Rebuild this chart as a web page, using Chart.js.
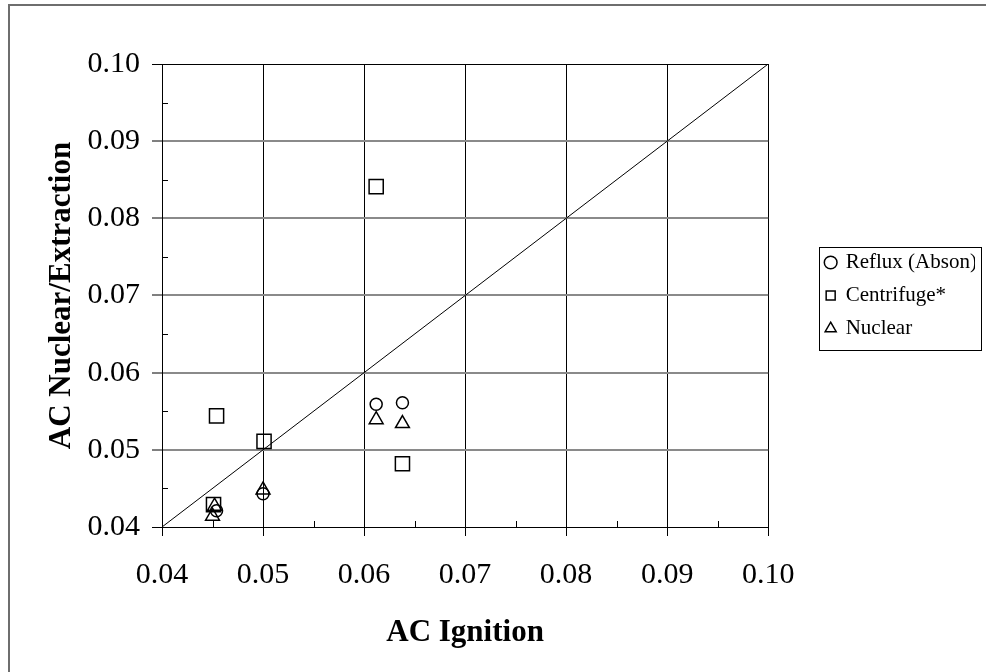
<!DOCTYPE html>
<html>
<head>
<meta charset="utf-8">
<script src="https://cdn.jsdelivr.net/npm/chart.js@4"></script>
<style>
  body { margin: 0; background: #fff; }
  #wrap { width: 986px; height: 672px; position: relative; }
</style>
</head>
<body>
<div id="wrap"><canvas id="acChart"></canvas></div>
<script>
// AC values (x = AC ignition, y = AC nuclear/extraction)
const seriesNames = ['Reflux (Abson)', 'Centrifuge*', 'Nuclear'];
const refluxX = [0.0454, 0.0500, 0.0612, 0.0638];
const refluxY = [0.0421, 0.0443, 0.0559, 0.0561];
const centrifugeX = [0.0451, 0.0454, 0.0501, 0.0612, 0.0638];
const centrifugeY = [0.0429, 0.0544, 0.0511, 0.0841, 0.0482];
const nuclearX = [0.0452, 0.0450, 0.0500, 0.0612, 0.0638];
const nuclearY = [0.0427, 0.0414, 0.0448, 0.0539, 0.0534];
// 1:1 line end points
const equalityLine = [0.04, 0.10];
// axis range
const axisMin = 0.04;
const axisMax = 0.10;
const majorStep = 0.01;
const minorStep = 0.005;

const serif = "'Liberation Serif', 'Times New Roman', serif";

function toPoints(xs, ys) {
  return xs.map((x, i) => ({ x: x, y: ys[i] }));
}

// white page and the grey frame at the left and top edges
const framePlugin = {
  id: 'frame',
  beforeDraw(chart) {
    const ctx = chart.ctx;
    ctx.save();
    ctx.fillStyle = '#fff';
    ctx.fillRect(0, 0, chart.width, chart.height);
    ctx.strokeStyle = '#6e6e6e';
    ctx.lineWidth = 2;
    ctx.beginPath();
    ctx.moveTo(9, chart.height);
    ctx.lineTo(9, 5);
    ctx.lineTo(chart.width, 5);
    ctx.stroke();
    ctx.restore();
  }
};

// small inward ticks halfway between the major ones
const minorTickPlugin = {
  id: 'minorTicks',
  afterDatasetsDraw(chart) {
    const ctx = chart.ctx;
    const xs = chart.scales.x, ys = chart.scales.y;
    const area = chart.chartArea;
    ctx.save();
    ctx.strokeStyle = '#000';
    ctx.lineWidth = 1;
    ctx.beginPath();
    for (let v = axisMin + minorStep; v < axisMax; v += majorStep) {
      const px = Math.round(xs.getPixelForValue(v)) + 0.5;
      ctx.moveTo(px, area.bottom);
      ctx.lineTo(px, area.bottom - 6);
      const py = Math.round(ys.getPixelForValue(v)) + 0.5;
      ctx.moveTo(area.left, py);
      ctx.lineTo(area.left + 6, py);
    }
    ctx.stroke();
    ctx.restore();
  }
};

// box round the legend items
const legendBorderPlugin = {
  id: 'legendBorder',
  afterDraw(chart) {
    const lg = chart.legend;
    if (!lg || !lg.legendHitBoxes || !lg.legendHitBoxes.length) return;
    const boxes = lg.legendHitBoxes;
    const first = boxes[0];
    const last = boxes[boxes.length - 1];
    const left = Math.round(first.left - 7) + 0.5;
    const top = Math.round(first.top - 5) + 0.5;
    const right = Math.round(lg.right + 6) + 0.5;
    const bottom = Math.round(last.top + last.height + 11) + 0.5;
    const ctx = chart.ctx;
    ctx.save();
    ctx.strokeStyle = '#000';
    ctx.lineWidth = 1;
    ctx.strokeRect(left, top, right - left, bottom - top);
    ctx.restore();
  }
};

const markerStyle = {
  backgroundColor: 'rgba(0,0,0,0)',
  borderColor: '#000',
  pointBorderColor: '#000',
  pointBackgroundColor: 'rgba(0,0,0,0)',
  pointBorderWidth: 1.5,
  borderWidth: 1.5,
  showLine: false
};

const ctx = document.getElementById('acChart').getContext('2d');
const acChart = new Chart(ctx, {
  type: 'scatter',
  data: {
    datasets: [
      Object.assign({ label: seriesNames[0], data: toPoints(refluxX, refluxY), pointStyle: 'circle', pointRadius: 6 }, markerStyle),
      Object.assign({ label: seriesNames[1], data: toPoints(centrifugeX, centrifugeY), pointStyle: 'rect', pointRadius: 10 }, markerStyle),
      Object.assign({ label: seriesNames[2], data: toPoints(nuclearX, nuclearY), pointStyle: 'triangle', pointRadius: 8 }, markerStyle),
      {
        label: '',
        type: 'line',
        data: toPoints(equalityLine, equalityLine),
        borderColor: '#000',
        borderWidth: 1,
        pointRadius: 0,
        fill: false
      }
    ]
  },
  options: {
    responsive: true,
    maintainAspectRatio: false,
    animation: false,
    layout: { padding: { left: 10, right: 11, top: 64, bottom: 0 } },
    plugins: {
      tooltip: { enabled: false },
      legend: {
        position: 'right',
        fullSize: false,
        labels: {
          usePointStyle: true,
          boxWidth: 9,
          boxHeight: 9,
          padding: 12,
          color: '#000',
          font: { family: serif, size: 21 },
          filter: (item) => item.text !== ''
        }
      }
    },
    scales: {
      x: {
        type: 'linear',
        min: axisMin,
        max: axisMax,
        afterFit: (s) => { s.height = 145; },
        border: { color: '#000', width: 1 },
        grid: { color: '#000', lineWidth: 1, tickLength: 9, tickColor: '#000' },
        ticks: {
          stepSize: majorStep,
          autoSkip: false,
          maxRotation: 0,
          padding: 21,
          color: '#000',
          font: { family: serif, size: 30 },
          callback: (v) => v.toFixed(2)
        },
        title: {
          display: true,
          text: 'AC Ignition',
          color: '#000',
          font: { family: serif, size: 31, weight: 'bold', lineHeight: 1 },
          padding: { top: 0, bottom: 24 }
        }
      },
      y: {
        type: 'linear',
        min: axisMin,
        max: axisMax,
        afterFit: (s) => { s.width = 152; },
        border: { color: '#000', width: 1 },
        grid: {
          color: (c) => {
            const v = c.tick ? c.tick.value : 0;
            return (Math.abs(v - axisMax) < 1e-9 || Math.abs(v - axisMin) < 1e-9) ? '#000' : '#8a8a8a';
          },
          lineWidth: (c) => {
            const v = c.tick ? c.tick.value : 0;
            return (Math.abs(v - axisMax) < 1e-9 || Math.abs(v - axisMin) < 1e-9) ? 1 : 2;
          },
          tickLength: 10,
          tickColor: '#000',
          tickWidth: 1
        },
        ticks: {
          stepSize: majorStep,
          autoSkip: false,
          padding: 12,
          color: '#000',
          font: { family: serif, size: 30 },
          callback: (v) => v.toFixed(2)
        },
        title: {
          display: true,
          text: 'AC Nuclear/Extraction',
          color: '#000',
          font: { family: serif, size: 31, weight: 'bold', lineHeight: 1 },
          padding: { top: 36, bottom: 0 }
        }
      },
      // empty axis that only keeps the gap between plot and legend
      gap: {
        type: 'linear',
        position: 'right',
        display: true,
        afterFit: (s) => { s.width = 46; },
        grid: { display: false, drawTicks: false },
        border: { display: false },
        ticks: { display: false }
      }
    }
  },
  plugins: [framePlugin, minorTickPlugin, legendBorderPlugin]
});
</script>
</body>
</html>
